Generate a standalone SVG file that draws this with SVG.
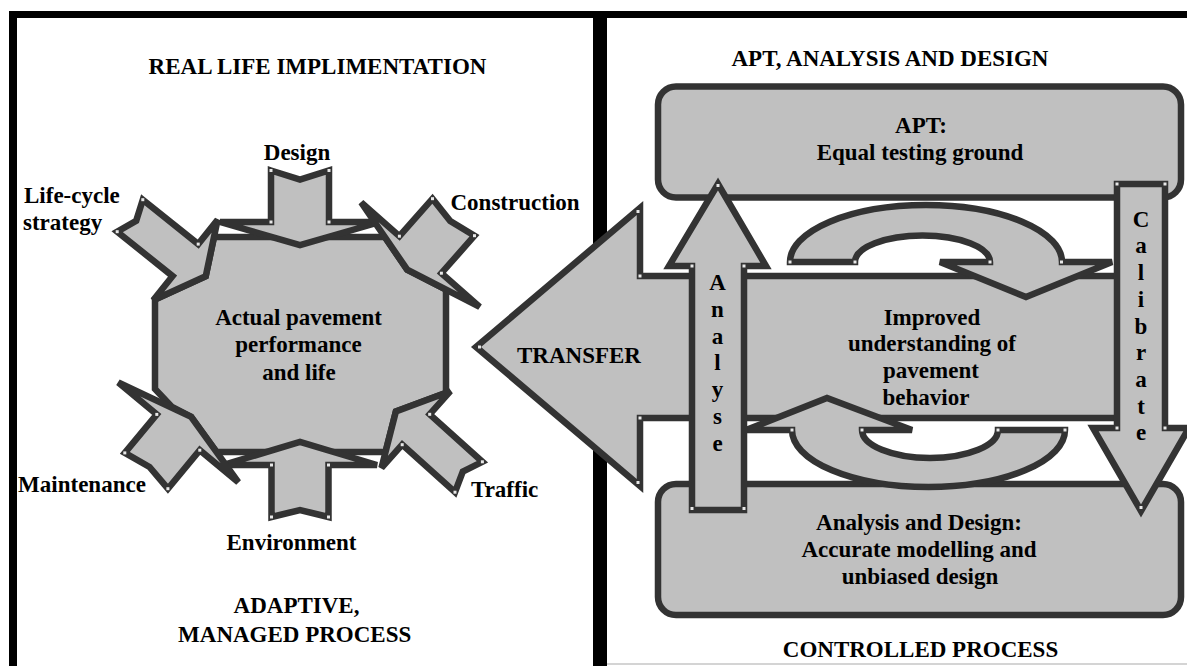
<svg xmlns="http://www.w3.org/2000/svg" width="1187" height="666" viewBox="0 0 1187 666">
<style>
.shape{fill:#c0c0c0;stroke:#333;stroke-width:6.5;stroke-linejoin:miter}
.t{font-family:"Liberation Serif","Times New Roman",serif;font-weight:bold;font-size:23px;fill:#000;text-anchor:middle}
.ts{font-family:"Liberation Serif","Times New Roman",serif;font-weight:bold;font-size:23px;fill:#000;text-anchor:start}
.dot{fill:#e8e8e8}
.frame{fill:#000}
</style>
<rect width="1187" height="666" fill="#fff"/>
<g id="frame">
<rect class="frame" x="9" y="11" width="1178" height="7"/>
<rect class="frame" x="9" y="11" width="8" height="655"/>
<rect class="frame" x="593" y="11" width="14" height="655"/>
<line x1="607" y1="664" x2="1187" y2="664" stroke="#d4d4d4" stroke-width="2"/>
<text class="t" x="317.5" y="74">REAL LIFE IMPLIMENTATION</text>
<text class="t" x="296.5" y="613">ADAPTIVE,</text>
<text class="t" x="294.7" y="642">MANAGED PROCESS</text>
<text class="t" x="890" y="66">APT, ANALYSIS AND DESIGN</text>
<text class="t" x="920.5" y="657">CONTROLLED PROCESS</text>
</g>
<g id="pavement-performance">
<polygon class="shape" points="214,237 384.8,237 407.2,269.7 446,289.6 446,392.8 395.9,411.4 385.5,452 216.5,452 191.1,416.9 172,407 155,389 155,299.5 205.7,276.3"/>
<text class="t" x="298.5" y="325">Actual pavement</text>
<text class="t" x="298.5" y="352">performance</text>
<text class="t" x="299" y="380">and life</text>
</g>
<g id="apt">
<rect class="shape" x="658" y="86.5" width="523" height="111" rx="18"/>
<text class="t" x="921" y="133">APT:</text>
<text class="t" x="920" y="160">Equal testing ground</text>
</g>
<g id="analysis-and-design">
<rect class="shape" x="658" y="484" width="523" height="131" rx="18"/>
<text class="t" x="919" y="530">Analysis and Design:</text>
<text class="t" x="919" y="557">Accurate modelling and</text>
<text class="t" x="920" y="584">unbiased design</text>
</g>
<g id="connectors">
<g id="design">
<polygon class="shape" points="271,170.5 300,179.5 329,170.5 329,222 380,222 300,245 220,222 271,222"/>
<text class="t" x="297" y="160">Design</text>
</g>
<g id="environment">
<polygon class="shape" points="271.5,517 300,510 328.5,517 328.5,465 377,465 300,442 223,465 271.5,465"/>
<text class="t" x="291.5" y="550">Environment</text>
</g>
<g id="life-cycle-strategy">
<polygon class="shape" points="142.8,199.7 198.2,244.1 217.6,219.9 205.7,276.3 153.2,300.3 172.6,276.1 117.2,231.7 136.2,220.7"/>
<text class="ts" x="24" y="203">Life-cycle</text>
<text class="ts" x="23" y="230">strategy</text>
</g>
<g id="construction">
<polygon class="shape" points="474.5,235.7 441.4,273.2 479.7,306.9 407.2,269.7 361.2,202.5 399.4,236.2 432.5,198.7 450.2,221"/>
<text class="ts" x="450.5" y="210">Construction</text>
</g>
<g id="maintenance">
<polygon class="shape" points="124.8,452.9 156.8,414.4 118.3,382.5 191.1,416.9 238.3,482.2 199.8,450.2 167.9,488.7 149.5,467"/>
<text class="t" x="82" y="492">Maintenance</text>
</g>
<g id="traffic">
<polygon class="shape" points="455,492.2 402.2,444.7 381.5,467.8 395.9,411.4 450.4,391.2 429.7,414.3 482.4,461.8 462.8,471.6"/>
<text class="ts" x="471" y="497">Traffic</text>
</g>
<g id="transfer">
<polygon class="shape" points="1141,276 640,276 640,208 476,347 640,486 640,418 1141,418"/>
<text class="t" x="579" y="363">TRANSFER</text>
</g>
<g id="improved-understanding">
<text class="t" x="932" y="325">Improved</text>
<text class="t" x="932" y="351">understanding of</text>
<text class="t" x="931" y="378">pavement</text>
<text class="t" x="926" y="405">behavior</text>
</g>
<g id="upper-loop">
<path class="shape" d="M790,262 A136,57 0 0 1 1062,262 L1112,262 L1026,297 L940,262 L990,262 A67.5,26.5 0 0 0 855,262 Z"/>
</g>
<g id="lower-loop">
<path class="shape" d="M1065,430 A136.5,57 0 0 1 792,430 L746,430 L827,398 L912,430 L862,430 A68,28 0 0 0 998,430 Z"/>
</g>
<g id="analyse">
<polygon class="shape" points="692,510 692,266 669,266 718,184 766,266 744,266 744,510"/>
<text class="t"><tspan x="717.5" y="290">A</tspan><tspan x="717.5" y="316.8">n</tspan><tspan x="717.5" y="343.6">a</tspan><tspan x="717.5" y="370.4">l</tspan><tspan x="717.5" y="397.2">y</tspan><tspan x="717.5" y="424">s</tspan><tspan x="717.5" y="450.8">e</tspan></text>
</g>
<g id="calibrate">
<polygon class="shape" points="1117,184 1165,184 1165,428 1189,428 1141,511 1093,428 1117,428"/>
<text class="t"><tspan x="1141" y="226.7">C</tspan><tspan x="1141" y="253.4">a</tspan><tspan x="1141" y="280.1">l</tspan><tspan x="1141" y="306.8">i</tspan><tspan x="1141" y="333.5">b</tspan><tspan x="1141" y="360.2">r</tspan><tspan x="1141" y="386.9">a</tspan><tspan x="1141" y="413.6">t</tspan><tspan x="1141" y="440.3">e</tspan></text>
</g>
</g>
<g id="vertex-marks">
<rect class="dot" x="269.5" y="169" width="3" height="3"/><rect class="dot" x="327.5" y="169" width="3" height="3"/>
<rect class="dot" x="269.5" y="220.5" width="3" height="3"/><rect class="dot" x="327.5" y="220.5" width="3" height="3"/>
<rect class="dot" x="270" y="515.5" width="3" height="3"/><rect class="dot" x="327" y="515.5" width="3" height="3"/>
<rect class="dot" x="270" y="463.5" width="3" height="3"/><rect class="dot" x="327" y="463.5" width="3" height="3"/>
<rect class="dot" x="141.3" y="198.2" width="3" height="3"/><rect class="dot" x="115.7" y="230.2" width="3" height="3"/>
<rect class="dot" x="196.7" y="242.6" width="3" height="3"/><rect class="dot" x="431" y="197.2" width="3" height="3"/>
<rect class="dot" x="473" y="234.2" width="3" height="3"/><rect class="dot" x="397.9" y="234.7" width="3" height="3"/>
<rect class="dot" x="439.9" y="271.7" width="3" height="3"/><rect class="dot" x="123.3" y="451.4" width="3" height="3"/>
<rect class="dot" x="166.4" y="487.2" width="3" height="3"/><rect class="dot" x="155.3" y="412.9" width="3" height="3"/>
<rect class="dot" x="198.3" y="448.7" width="3" height="3"/><rect class="dot" x="480.9" y="460.3" width="3" height="3"/>
<rect class="dot" x="453.5" y="490.7" width="3" height="3"/><rect class="dot" x="428.2" y="412.8" width="3" height="3"/>
<rect class="dot" x="400.7" y="443.2" width="3" height="3"/>
<rect class="dot" x="690.5" y="264.5" width="3" height="3"/><rect class="dot" x="742.5" y="264.5" width="3" height="3"/>
<rect class="dot" x="690.5" y="507" width="3" height="3"/><rect class="dot" x="742.5" y="507" width="3" height="3"/>
<rect class="dot" x="716.5" y="184" width="3" height="3"/>
<rect class="dot" x="1115.5" y="182.5" width="3" height="3"/><rect class="dot" x="1163.5" y="182.5" width="3" height="3"/>
<rect class="dot" x="1115.5" y="426.5" width="3" height="3"/><rect class="dot" x="1163.5" y="426.5" width="3" height="3"/>
<rect class="dot" x="1139.5" y="506" width="3" height="3"/>
<rect class="dot" x="638.5" y="274.5" width="3" height="3"/><rect class="dot" x="638.5" y="416.5" width="3" height="3"/>
<rect class="dot" x="636.5" y="210" width="3" height="3"/><rect class="dot" x="636.5" y="481" width="3" height="3"/>
<rect class="dot" x="478" y="345.5" width="3" height="3"/>
<rect class="dot" x="788.5" y="260.5" width="3" height="3"/><rect class="dot" x="853.5" y="260.5" width="3" height="3"/>
<rect class="dot" x="988.5" y="260.5" width="3" height="3"/><rect class="dot" x="1060" y="260.5" width="3" height="3"/>
<rect class="dot" x="790.5" y="428.5" width="3" height="3"/><rect class="dot" x="860.5" y="428.5" width="3" height="3"/>
<rect class="dot" x="996.5" y="428.5" width="3" height="3"/><rect class="dot" x="1063.5" y="428.5" width="3" height="3"/>
</g>
</svg>
